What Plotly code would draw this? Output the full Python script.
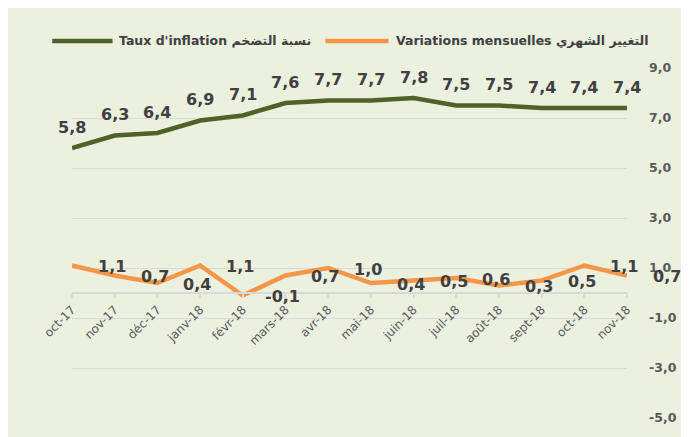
import plotly.graph_objects as go

categories = ["oct-17", "nov-17", "déc-17", "janv-18", "févr-18", "mars-18", "avr-18",
              "mai-18", "juin-18", "juil-18", "août-18", "sept-18", "oct-18", "nov-18"]
inflation = [5.8, 6.3, 6.4, 6.9, 7.1, 7.6, 7.7, 7.7, 7.8, 7.5, 7.5, 7.4, 7.4, 7.4]
monthly = [1.1, 0.7, 0.4, 1.1, -0.1, 0.7, 1.0, 0.4, 0.5, 0.6, 0.3, 0.5, 1.1, 0.7]
series_names = ["Taux d'inflation نسبة التضخم", "Variations mensuelles التغيير الشهري"]
y_ticks = [9, 7, 5, 3, 1, -1, -3, -5]
y_ticktext = ["9,0", "7,0", "5,0", "3,0", "1,0", "-1,0", "-3,0", "-5,0"]

GREEN = "#4F6228"
ORANGE = "#F79646"
BG = "#EBF0DF"
GRID = "#D9D9D9"
FONT = "DejaVu Sans"

def fmt(v):
    return f"{v:.1f}".replace(".", ",")

x = list(range(len(categories)))

fig = go.Figure()
fig.add_trace(go.Scatter(x=x, y=inflation, mode="lines", name=series_names[0],
                         line=dict(color=GREEN, width=4.5), showlegend=False))
fig.add_trace(go.Scatter(x=x, y=monthly, mode="lines", name=series_names[1],
                         line=dict(color=ORANGE, width=4.5), showlegend=False))

annotations = []
for i, v in enumerate(inflation):
    annotations.append(dict(x=i, y=v, text=fmt(v), showarrow=False, yshift=21,
                            font=dict(family=FONT, size=16, color="#404040", weight="bold")))
for i, v in enumerate(monthly):
    annotations.append(dict(x=i, y=v, text=fmt(v), showarrow=False, xshift=40, yshift=-1,
                            font=dict(family=FONT, size=16, color="#404040", weight="bold")))

# custom legend (plot area: 561 x 350 px; figure offset by page body margin)
W, H = 681, 429
ML, MR, MT, MB = 64, 56, 60, 19
PW, PH = W - ML - MR, H - MT - MB

def px_x(p):  # page pixel -> paper
    return (p - 8 - ML) / PW

def px_y(p):
    return (H - MB - (p - 8)) / PH

leg_y = px_y(41)
shapes = []
legend_items = [(52, 113, 117, GREEN, series_names[0]), (328, 392, 397, ORANGE, series_names[1])]
for x0, x1, tx, col, name in legend_items:
    shapes.append(dict(type="line", xref="paper", yref="paper", x0=px_x(x0), x1=px_x(x1),
                       y0=leg_y, y1=leg_y, line=dict(color=col, width=4.5)))
    annotations.append(dict(xref="paper", yref="paper", x=px_x(tx), y=leg_y, text=name,
                            xanchor="left", yanchor="middle", showarrow=False,
                            font=dict(family=FONT, size=12.5, color="#404040", weight="bold")))

fig.update_layout(
    width=W, height=H,
    margin=dict(l=ML, r=MR, t=MT, b=MB),
    paper_bgcolor=BG,
    plot_bgcolor=BG,
    annotations=annotations,
    shapes=shapes,
    xaxis=dict(range=[0, 13], tickvals=x, ticktext=categories, tickangle=-45,
               anchor="free", position=5 / 14, showline=True, linecolor=GRID, linewidth=2,
               ticks="outside", ticklen=4, tickcolor=GRID, tickwidth=2, showgrid=False,
               zeroline=False, tickfont=dict(family=FONT, size=12, color="#595959")),
    yaxis=dict(range=[-5, 9], side="right", tickvals=y_ticks, ticktext=y_ticktext,
               showgrid=True, gridcolor=GRID, gridwidth=1, zeroline=False, showline=False,
               ticklabelstandoff=21,
               tickfont=dict(family=FONT, size=12.5, color="#595959", weight="bold")),
)

fig.write_html("out.html")
